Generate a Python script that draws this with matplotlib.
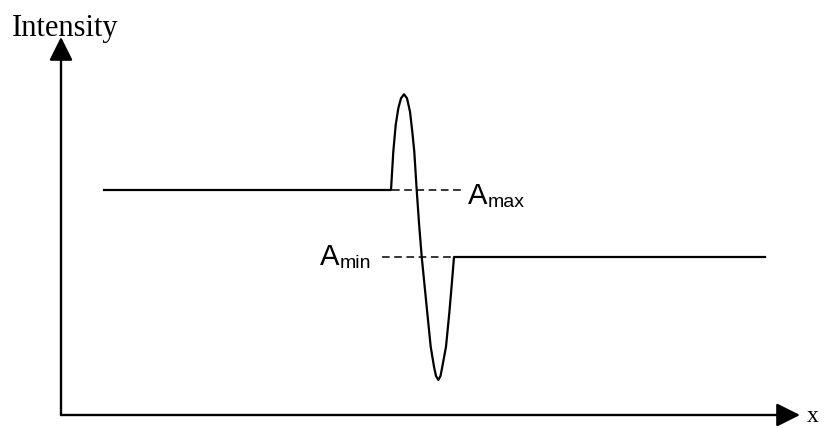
import numpy as np
import matplotlib
matplotlib.use('Agg')
import matplotlib.pyplot as plt

# curve (arbitrary units, origin at the axes corner)
x_pts = [43, 330, 332.3, 334.7, 337.3, 340, 343, 346, 349, 351.3, 353.3, 355.7, 358,
         360.7, 366.3, 369.7, 373, 375, 377.3, 379.5, 381.3, 385, 388.3, 390.7, 393, 704]
y_pts = [225, 225, 263.3, 290, 306.7, 316.7, 320.7, 316.7, 303.3, 283.3, 263.3, 225, 192,
         158.3, 102, 68.3, 48.3, 39, 35, 39, 48.3, 68.3, 102, 130, 158, 158]

a_max_level = 225
a_min_level = 158
a_max_dash = [331, 401]
a_min_dash = [321, 394]

fig = plt.figure(figsize=(8.24, 4.28), dpi=100)
ax = fig.add_axes([0, 0, 1, 1])
ax.set_xlim(-61, 763)
ax.set_ylim(-13, 415)
ax.axis('off')

# axes with arrow heads
arrow = dict(arrowstyle='-|>,head_length=1.44,head_width=0.72', mutation_scale=10,
             color='black', lw=1.7, shrinkA=0, shrinkB=0)
ax.annotate('', xy=(0, 378), xytext=(0, 0), arrowprops=arrow)
ax.annotate('', xy=(739, 0), xytext=(0, 0), arrowprops=arrow)

ax.text(-49, 379, 'Intensity', fontsize=22, family='Liberation Serif', va='baseline', ha='left')
ax.text(746, -7, 'x', fontsize=17, family='Liberation Serif', va='baseline', ha='left')

ax.plot(x_pts, y_pts, color='black', lw=1.6, solid_joinstyle='round')

ax.plot(a_max_dash, [a_max_level, a_max_level], color='black', lw=1.1, dashes=(5, 3))
ax.plot(a_min_dash, [a_min_level, a_min_level], color='black', lw=1.1, dashes=(5, 3))

def label(x, y, sub):
    t = ax.text(x, y, 'A', fontsize=21, family='Liberation Sans', va='baseline', ha='left')
    ax.annotate(sub, xy=(1, 0), xycoords=t, xytext=(0.5, 2), textcoords='offset points',
                fontsize=14, family='Liberation Sans', va='baseline', ha='left')

label(407, 211, 'max')
label(259, 150, 'min')

fig.savefig('out.png', dpi=100)
